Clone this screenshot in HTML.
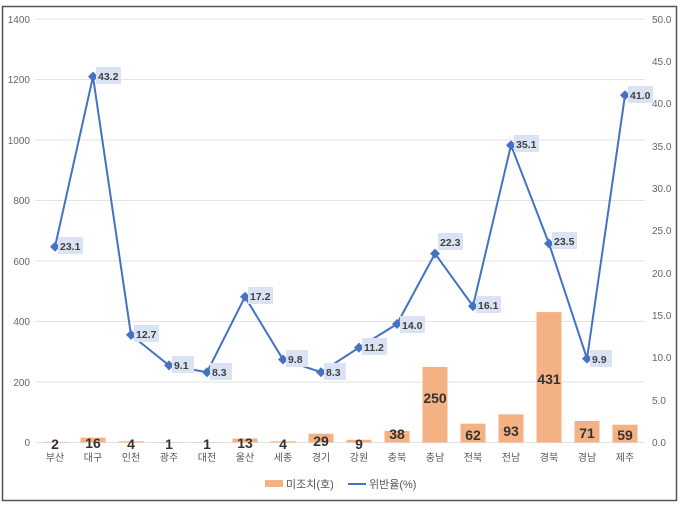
<!DOCTYPE html><html><head><meta charset="utf-8"><style>body{margin:0;background:#fff}svg{display:block;font-family:"Liberation Sans","Noto Sans CJK KR",sans-serif}</style></head><body>
<svg width="688" height="511" xmlns="http://www.w3.org/2000/svg">
<rect x="2.5" y="6.5" width="674" height="494" fill="#fff" stroke="#555" stroke-width="1.5"/>
<g stroke="#e3e3e3" stroke-width="1">
<line x1="35" x2="645" y1="442.5" y2="442.5"/><line x1="35" x2="645" y1="382" y2="382"/><line x1="35" x2="645" y1="321.5" y2="321.5"/><line x1="35" x2="645" y1="261" y2="261"/><line x1="35" x2="645" y1="200.5" y2="200.5"/><line x1="35" x2="645" y1="140" y2="140"/><line x1="35" x2="645" y1="79.5" y2="79.5"/><line x1="35" x2="645" y1="19" y2="19"/>
</g>
<g font-size="10" fill="#666" text-anchor="end">
<text x="30" y="446">0</text><text x="30" y="386">200</text><text x="30" y="325">400</text><text x="30" y="265">600</text><text x="30" y="204">800</text><text x="30" y="144">1000</text><text x="30" y="83">1200</text><text x="30" y="23">1400</text>
</g>
<g font-size="10" fill="#666">
<text x="652" y="446">0.0</text><text x="652" y="404">5.0</text><text x="652" y="361">10.0</text><text x="652" y="319">15.0</text><text x="652" y="277">20.0</text><text x="652" y="234">25.0</text><text x="652" y="192">30.0</text><text x="652" y="150">35.0</text><text x="652" y="107">40.0</text><text x="652" y="65">45.0</text><text x="652" y="23">50.0</text>
</g>
<g fill="#f4b183">
<rect x="42.5" y="441.9" width="25" height="0.6"/><rect x="80.5" y="437.7" width="25" height="4.8"/><rect x="118.5" y="441.3" width="25" height="1.2"/><rect x="156.5" y="442.2" width="25" height="0.3"/><rect x="194.5" y="442.2" width="25" height="0.3"/><rect x="232.5" y="438.6" width="25" height="3.9"/><rect x="270.5" y="441.3" width="25" height="1.2"/><rect x="308.5" y="433.7" width="25" height="8.8"/><rect x="346.5" y="439.8" width="25" height="2.7"/><rect x="384.5" y="431" width="25" height="11.5"/><rect x="422.5" y="366.9" width="25" height="75.6"/><rect x="460.5" y="423.7" width="25" height="18.8"/><rect x="498.5" y="414.4" width="25" height="28.1"/><rect x="536.5" y="312.1" width="25" height="130.4"/><rect x="574.5" y="421" width="25" height="21.5"/><rect x="612.5" y="424.7" width="25" height="17.8"/>
</g>
<g font-size="14" font-weight="bold" fill="#333" text-anchor="middle">
<text x="55" y="449">2</text><text x="93" y="448">16</text><text x="131" y="449">4</text><text x="169" y="449">1</text><text x="207" y="449">1</text><text x="245" y="448">13</text><text x="283" y="449">4</text><text x="321" y="446">29</text><text x="359" y="449">9</text><text x="397" y="439">38</text><text x="435" y="403">250</text><text x="473" y="440">62</text><text x="511" y="436">93</text><text x="549" y="384">431</text><text x="587" y="438">71</text><text x="625" y="440">59</text>
</g>
<g font-size="10" fill="#555" text-anchor="middle">
<text x="55" y="461">부산</text><text x="93" y="461">대구</text><text x="131" y="461">인천</text><text x="169" y="461">광주</text><text x="207" y="461">대전</text><text x="245" y="461">울산</text><text x="283" y="461">세종</text><text x="321" y="461">경기</text><text x="359" y="461">강원</text><text x="397" y="461">충북</text><text x="435" y="461">충남</text><text x="473" y="461">전북</text><text x="511" y="461">전남</text><text x="549" y="461">경북</text><text x="587" y="461">경남</text><text x="625" y="461">제주</text>
</g>
<polyline fill="none" stroke="#4472c4" stroke-width="2" points="55,246.8 93,76.6 131,334.9 169,365.4 207,372.2 245,296.8 283,359.5 321,372.2 359,347.6 397,324 435,253.6 473,306.1 511,145.2 549,243.5 587,358.6 625,95.2"/>
<g fill="#4472c4">
<path d="M55 241.8l5 5-5 5-5-5z"/><path d="M93 71.6l5 5-5 5-5-5z"/><path d="M131 329.9l5 5-5 5-5-5z"/><path d="M169 360.4l5 5-5 5-5-5z"/><path d="M207 367.2l5 5-5 5-5-5z"/><path d="M245 291.8l5 5-5 5-5-5z"/><path d="M283 354.5l5 5-5 5-5-5z"/><path d="M321 367.2l5 5-5 5-5-5z"/><path d="M359 342.6l5 5-5 5-5-5z"/><path d="M397 319l5 5-5 5-5-5z"/><path d="M435 248.6l5 5-5 5-5-5z"/><path d="M473 301.1l5 5-5 5-5-5z"/><path d="M511 140.2l5 5-5 5-5-5z"/><path d="M549 238.5l5 5-5 5-5-5z"/><path d="M587 353.6l5 5-5 5-5-5z"/><path d="M625 90.2l5 5-5 5-5-5z"/>
</g>
<g fill="#dae3f3">
<rect x="58" y="237" width="25" height="17"/><rect x="96" y="67" width="25" height="17"/><rect x="134" y="325" width="25" height="17"/><rect x="172" y="356" width="22" height="17"/><rect x="210" y="363" width="22" height="17"/><rect x="248" y="287" width="25" height="17"/><rect x="286" y="350" width="22" height="17"/><rect x="324" y="363" width="22" height="17"/><rect x="362" y="338" width="25" height="17"/><rect x="400" y="316" width="25" height="17"/><rect x="438" y="233" width="25" height="17"/><rect x="476" y="296" width="25" height="17"/><rect x="514" y="135" width="25" height="17"/><rect x="552" y="232" width="25" height="17"/><rect x="590" y="350" width="22" height="17"/><rect x="628" y="86" width="25" height="17"/>
</g>
<g font-size="10.5" font-weight="bold" fill="#404040">
<text x="60" y="250">23.1</text><text x="98" y="80">43.2</text><text x="136" y="338">12.7</text><text x="174" y="369">9.1</text><text x="212" y="376">8.3</text><text x="250" y="300">17.2</text><text x="288" y="363">9.8</text><text x="326" y="376">8.3</text><text x="364" y="351">11.2</text><text x="402" y="329">14.0</text><text x="440" y="246">22.3</text><text x="478" y="309">16.1</text><text x="516" y="148">35.1</text><text x="554" y="245">23.5</text><text x="592" y="363">9.9</text><text x="630" y="99">41.0</text>
</g>
<rect x="265" y="480" width="18" height="7" fill="#f4b183"/>
<text x="286" y="488" font-size="11" fill="#555">미조치(호)</text>
<line x1="348" y1="484" x2="366" y2="484" stroke="#4472c4" stroke-width="2"/>
<text x="369" y="488" font-size="11" fill="#555">위반율(%)</text>
</svg></body></html>
